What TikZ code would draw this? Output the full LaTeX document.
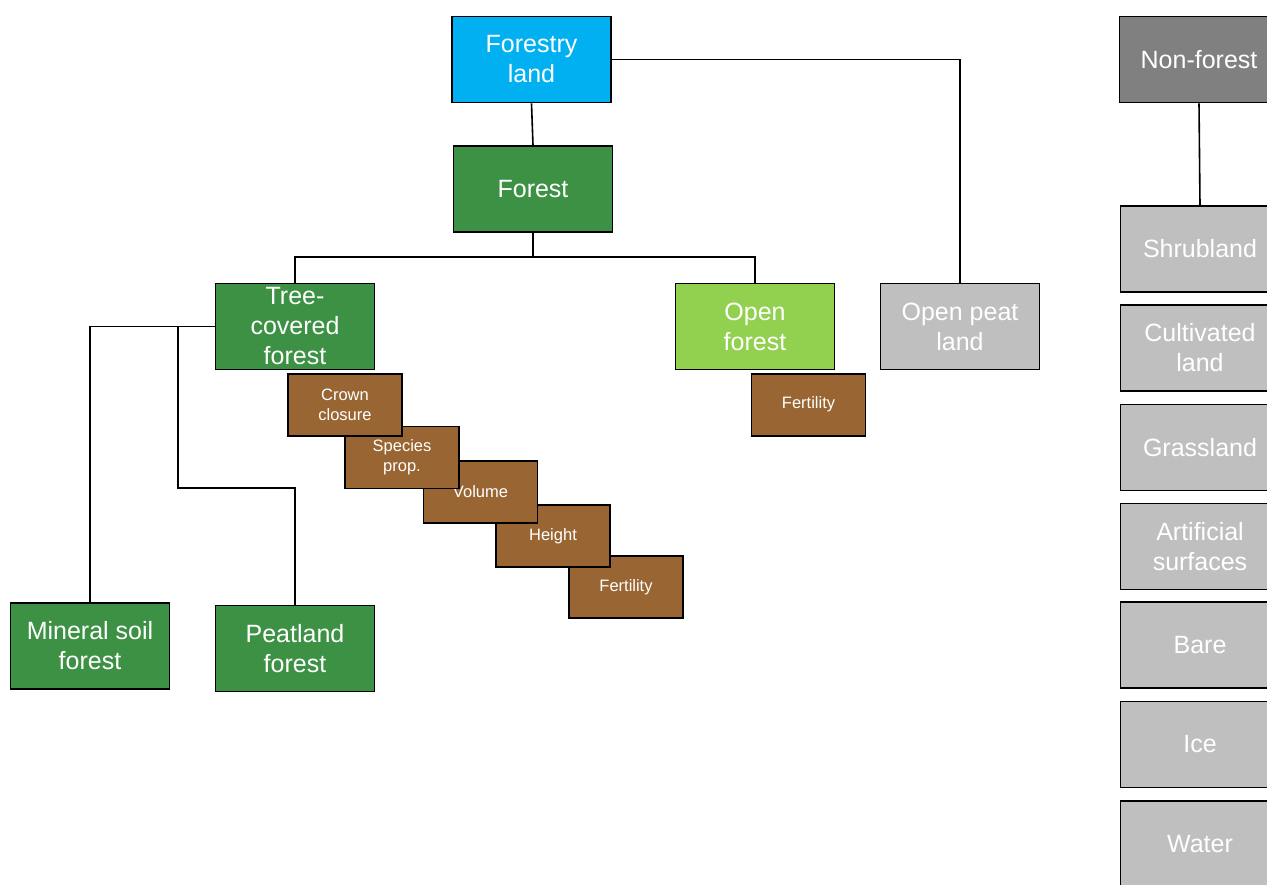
\documentclass[tikz,border=0pt]{standalone}
\usepackage{fontspec}
\setmainfont{Liberation Sans}
\definecolor{cyanbox}{RGB}{0,176,240}
\definecolor{forestg}{RGB}{61,145,69}
\definecolor{openg}{RGB}{146,208,80}
\definecolor{lgrey}{RGB}{191,191,191}
\definecolor{dgrey}{RGB}{128,128,128}
\definecolor{brownbox}{RGB}{153,102,51}
\tikzset{
  box/.style={draw=black, line width=1.6pt, text=white, align=center, inner sep=0pt,
    minimum width=159pt, minimum height=86pt, font=\fontsize{25}{30}\selectfont},
  smallbox/.style={draw=black, line width=1.6pt, fill=brownbox, text=white, align=center, inner sep=0pt,
    minimum width=114pt, minimum height=62pt, font=\fontsize{16.5}{20}\selectfont},
  conn/.style={line width=1.6pt, black}
}
\begin{document}
\begin{tikzpicture}[x=1pt,y=-1pt]
\clip (0,0) rectangle (1267,884);
\fill[white] (0,0) rectangle (1267,884);
% connectors
\node[box, fill=cyanbox] (fl) at (531.5,59.5) {Forestry\\land};
\node[box, fill=forestg] (forest) at (533,189) {Forest};
\node[box, fill=forestg] (tree) at (295,326.5) {Tree-\\covered\\forest};
\node[box, fill=openg] (openf) at (755,326.5) {Open\\forest};
\node[box, fill=lgrey] (openpeat) at (960,326.5) {Open peat\\land};
\node[box, fill=forestg] (mineral) at (90,646) {Mineral soil\\forest};
\node[box, fill=forestg] (peat) at (295,648.5) {Peatland\\forest};
% brown attribute boxes (back to front)
\node[smallbox] (fert) at (626,587) {Fertility};
\node[smallbox] (height) at (553,536) {Height};
\node[smallbox] (volume) at (480.5,492) {Volume};
\node[smallbox] (species) at (402,457.5) {Species\\prop.};
\node[smallbox] (crown) at (345,405) {Crown\\closure};
\node[smallbox] (fert2) at (808.5,404.7) {Fertility};
% non-forest column
\node[box, fill=dgrey] (nf) at (1199,59.5) {Non-forest};
\node[box, fill=lgrey] (shrub) at (1200,249) {Shrubland};
\node[box, fill=lgrey] (cult) at (1200,348) {Cultivated\\land};
\node[box, fill=lgrey] (grass) at (1200,447.5) {Grassland};
\node[box, fill=lgrey] (art) at (1200,546.5) {Artificial\\surfaces};
\node[box, fill=lgrey] (bare) at (1200,645) {Bare};
\node[box, fill=lgrey] (ice) at (1200,744.5) {Ice};
\node[box, fill=lgrey] (water) at (1200,844) {Water};
% connectors
\coordinate (fj) at (533,257);
\coordinate (tb) at (178,326.5);
\coordinate (pb) at (178,488);
\draw[conn] (fl.south) -- (forest.north);
\draw[conn] (fl.east) -| (openpeat.north);
\draw[conn] (forest.south) -- (fj);
\draw[conn] (tree.north) |- (fj) -| (openf.north);
\draw[conn] (tree.west) -| (mineral.north);
\draw[conn] (tb) -- (pb) -| (peat.north);
\draw[conn] (nf.south) -- (shrub.north);
\end{tikzpicture}
\end{document}
